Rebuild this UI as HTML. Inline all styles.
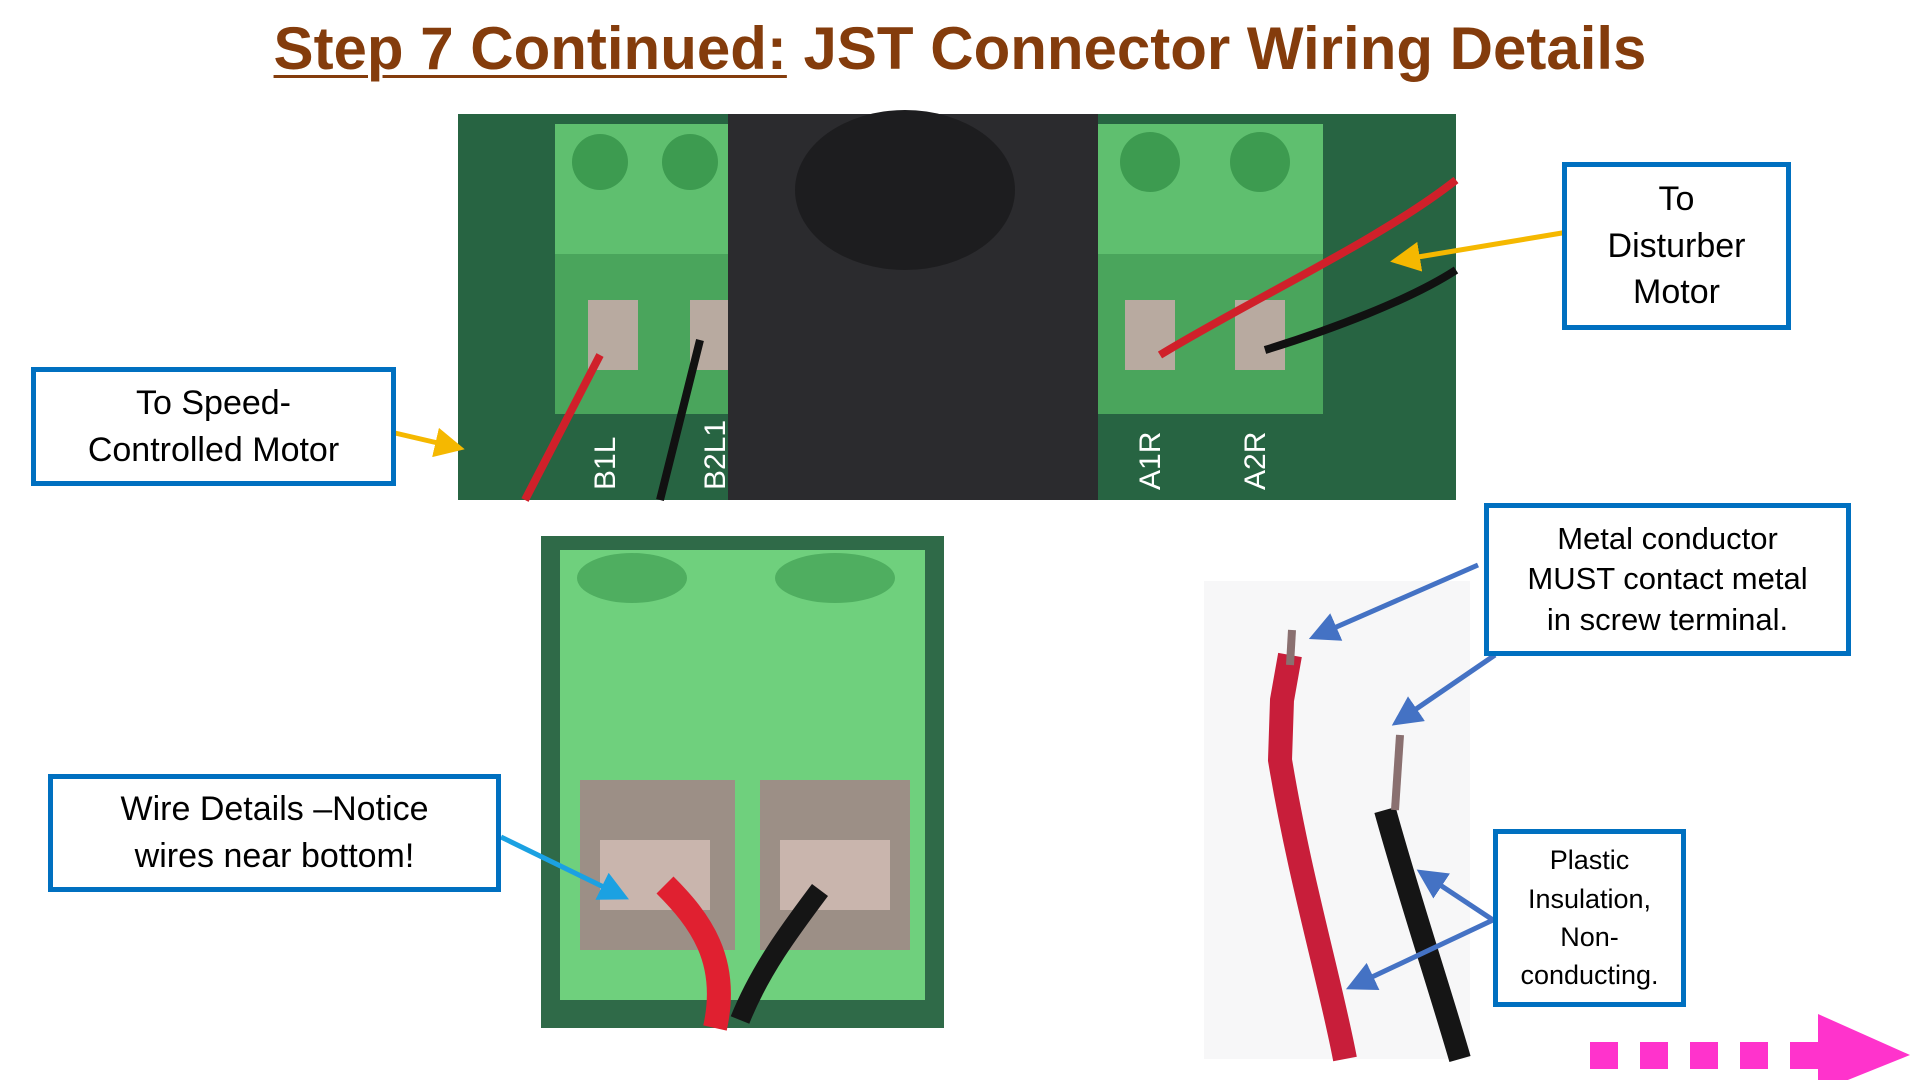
<!DOCTYPE html>
<html><head><meta charset="utf-8"><style>
html,body{margin:0;padding:0;background:#fff;}
body{width:1920px;height:1080px;position:relative;overflow:hidden;font-family:"Liberation Sans",sans-serif;}
.t{position:absolute;left:0;width:1920px;top:14px;text-align:center;font-size:60px;font-weight:bold;color:#843C0C;}
.t u{text-decoration-thickness:3px;text-underline-offset:6px;}
.b{position:absolute;border:5px solid #0070C0;background:#fff;box-sizing:border-box;display:flex;align-items:center;justify-content:center;text-align:center;font-size:34px;line-height:1.38;color:#000;}
</style></head><body>
<div class="t"><u>Step 7 Continued:</u> JST Connector Wiring Details</div>
<svg width="1920" height="1080" style="position:absolute;left:0;top:0">
<defs>
<marker id="ay" markerWidth="6" markerHeight="6" refX="4" refY="3" orient="auto"><path d="M0,0 L6,3 L0,6 z" fill="#F5B800"/></marker>
<marker id="ab" markerWidth="6" markerHeight="6" refX="4" refY="3" orient="auto"><path d="M0,0 L6,3 L0,6 z" fill="#4472C4"/></marker>
<marker id="ac" markerWidth="6" markerHeight="6" refX="4" refY="3" orient="auto"><path d="M0,0 L6,3 L0,6 z" fill="#1BA1E2"/></marker>
</defs>
<rect x="458" y="114" width="998" height="386" fill="#2f6e4a"/>
<rect x="458" y="114" width="998" height="386" fill="#1f5a3a" opacity="0.5"/>
<rect x="555" y="124" width="175" height="130" fill="#5fbf6f"/>
<rect x="555" y="254" width="175" height="160" fill="#4aa55c"/>
<circle cx="600" cy="162" r="28" fill="#3d9b50"/><circle cx="690" cy="162" r="28" fill="#3d9b50"/>
<rect x="588" y="300" width="50" height="70" fill="#b8aaa0"/><rect x="690" y="300" width="40" height="70" fill="#b8aaa0"/>
<rect x="1098" y="124" width="225" height="130" fill="#5fbf6f"/>
<rect x="1098" y="254" width="225" height="160" fill="#4aa55c"/>
<circle cx="1150" cy="162" r="30" fill="#3d9b50"/><circle cx="1260" cy="162" r="30" fill="#3d9b50"/>
<rect x="1125" y="300" width="50" height="70" fill="#b8aaa0"/><rect x="1235" y="300" width="50" height="70" fill="#b8aaa0"/>
<rect x="728" y="114" width="370" height="386" fill="#2b2b2e"/>
<ellipse cx="905" cy="190" rx="110" ry="80" fill="#1d1d1f"/>
<path d="M600,355 L525,500" stroke="#d0202a" stroke-width="8" fill="none"/>
<path d="M700,340 L660,500" stroke="#111" stroke-width="8" fill="none"/>
<path d="M1160,355 C1250,300 1380,240 1456,180" stroke="#d0202a" stroke-width="8" fill="none"/>
<path d="M1265,350 C1330,330 1410,300 1456,270" stroke="#111" stroke-width="8" fill="none"/>
<g fill="#fff" font-size="30" font-family="Liberation Sans">
<text transform="translate(615,490) rotate(-90)">B1L</text>
<text transform="translate(725,490) rotate(-90)">B2L1</text>
<text transform="translate(1160,490) rotate(-90)">A1R</text>
<text transform="translate(1265,490) rotate(-90)">A2R</text>
</g>
<rect x="541" y="536" width="403" height="492" fill="#2f6a48"/>
<rect x="560" y="550" width="365" height="450" fill="#6fd07d"/>
<ellipse cx="632" cy="578" rx="55" ry="25" fill="#4fae60"/><ellipse cx="835" cy="578" rx="60" ry="25" fill="#4fae60"/>
<rect x="580" y="780" width="155" height="170" fill="#9c8f86"/><rect x="760" y="780" width="150" height="170" fill="#9c8f86"/>
<rect x="600" y="840" width="110" height="70" fill="#c9b5ad"/><rect x="780" y="840" width="110" height="70" fill="#c9b5ad"/>
<path d="M665,885 C700,920 730,960 715,1028" stroke="#e02030" stroke-width="24" fill="none"/>
<path d="M820,890 C790,930 760,970 740,1020" stroke="#151515" stroke-width="20" fill="none"/>
<rect x="1204" y="581" width="266" height="478" fill="#f7f7f8"/>
<path d="M1290,655 L1282,700 L1280,760 C1300,880 1330,980 1345,1059" stroke="#c81e3a" stroke-width="24" fill="none"/>
<path d="M1385,810 C1410,900 1440,990 1460,1059" stroke="#151515" stroke-width="22" fill="none"/>
<path d="M1292,630 L1290,665" stroke="#8a7070" stroke-width="8"/>
<path d="M1400,735 L1395,810" stroke="#8a7070" stroke-width="8"/>
<line x1="382" y1="430" x2="455" y2="447" stroke="#F5B800" stroke-width="5" marker-end="url(#ay)"/>
<line x1="1580" y1="230" x2="1400" y2="260" stroke="#F5B800" stroke-width="5" marker-end="url(#ay)"/>
<line x1="501" y1="837" x2="620" y2="895" stroke="#1BA1E2" stroke-width="5" marker-end="url(#ac)"/>
<line x1="1478" y1="565" x2="1318" y2="635" stroke="#4472C4" stroke-width="5" marker-end="url(#ab)"/>
<line x1="1495" y1="655" x2="1400" y2="720" stroke="#4472C4" stroke-width="5" marker-end="url(#ab)"/>
<line x1="1493" y1="920" x2="1425" y2="875" stroke="#4472C4" stroke-width="5" marker-end="url(#ab)"/>
<line x1="1493" y1="920" x2="1355" y2="985" stroke="#4472C4" stroke-width="5" marker-end="url(#ab)"/>
<g fill="#FF33CC">
<rect x="1590" y="1042" width="28" height="27"/><rect x="1640" y="1042" width="28" height="27"/><rect x="1690" y="1042" width="28" height="27"/><rect x="1740" y="1042" width="28" height="27"/><rect x="1790" y="1042" width="28" height="27"/>
<path d="M1818,1014 L1910,1055 L1818,1092 z"/>
</g>
</svg>
<div class="b" style="left:31px;top:367px;width:365px;height:119px">To Speed-<br>Controlled Motor</div>
<div class="b" style="left:1562px;top:162px;width:229px;height:168px">To<br>Disturber<br>Motor</div>
<div class="b" style="left:48px;top:774px;width:453px;height:118px">Wire Details –Notice<br>wires near bottom!</div>
<div class="b" style="left:1484px;top:503px;width:367px;height:153px;font-size:31px;line-height:1.3">Metal conductor<br>MUST contact metal<br>in screw terminal.</div>
<div class="b" style="left:1493px;top:829px;width:193px;height:178px;font-size:27px;line-height:1.42">Plastic<br>Insulation,<br>Non-<br>conducting.</div>
</body></html>
